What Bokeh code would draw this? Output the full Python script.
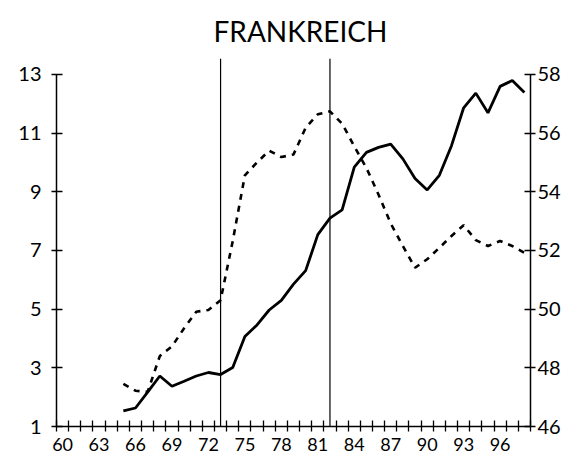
from bokeh.plotting import figure
from bokeh.models import Range1d, LinearAxis, FixedTicker, Span
from bokeh.embed import file_html
from bokeh.resources import INLINE

title = "FRANKREICH"
years = [65, 66, 67, 68, 69, 70, 71, 72, 73, 74, 75, 76, 77, 78, 79, 80, 81,
         82, 83, 84, 85, 86, 87, 88, 89, 90, 91, 92, 93, 94, 95, 96, 97, 98]
solid_left = [1.53, 1.63, 2.17, 2.72, 2.37, 2.54, 2.72, 2.84, 2.77, 3.01, 4.07,
              4.46, 4.97, 5.30, 5.85, 6.31, 7.54, 8.10, 8.38, 9.84, 10.34, 10.51,
              10.62, 10.12, 9.45, 9.06, 9.56, 10.57, 11.86, 12.36, 11.69, 12.59,
              12.79, 12.38]
dashed_right = [47.45, 47.22, 47.18, 48.40, 48.73, 49.35, 49.91, 49.97, 50.30,
                52.32, 54.56, 55.00, 55.40, 55.18, 55.27, 56.18, 56.64, 56.74,
                56.32, 55.55, 54.81, 53.90, 52.92, 52.15, 51.41, 51.70, 52.09,
                52.49, 52.86, 52.35, 52.15, 52.32, 52.15, 51.92]
event_years = [73, 82]
x_label_years = [60, 63, 66, 69, 72, 75, 78, 81, 84, 87, 90, 93, 96]
all_years = list(range(60, 99))
left_ticks = [1, 3, 5, 7, 9, 11, 13]
right_ticks = [46, 48, 50, 52, 54, 56, 58]

FONT = "Lato"

p = figure(width=563, height=453, output_backend="svg", toolbar_location=None,
           x_range=Range1d(all_years[0] - 0.5, all_years[-1] + 0.5),
           y_range=Range1d(left_ticks[0], 13.54),
           x_axis_location=None, y_axis_location=None, title=title,
           min_border_left=56, min_border_right=10, min_border_top=55,
           min_border_bottom=10)
p.extra_y_ranges = {"right": Range1d(right_ticks[0], 58.54)}
p.outline_line_color = None
p.grid.visible = False
p.background_fill_color = "white"
p.border_fill_color = "white"

p.title.align = "left"
p.title.text_font = FONT
p.title.text_font_size = "28px"
p.title.text_font_style = "normal"
p.title.text_color = "black"
p.title.standoff = 22
p.title.offset = 157

def style(ax, size):
    ax.axis_line_color = "black"
    ax.axis_line_width = 1.5
    ax.major_tick_line_color = "black"
    ax.major_tick_line_width = 1.3
    ax.minor_tick_line_color = "black"
    ax.minor_tick_line_width = 1.3
    ax.major_label_text_font = FONT
    ax.major_label_text_font_size = size
    ax.major_label_text_color = "black"

left = LinearAxis(ticker=FixedTicker(ticks=left_ticks),
                  bounds=(left_ticks[0], left_ticks[-1]))
style(left, "20px")
left.major_tick_in = 6
left.major_tick_out = 5
left.major_label_standoff = 10
p.add_layout(left, "left")

right = LinearAxis(y_range_name="right", ticker=FixedTicker(ticks=right_ticks),
                   bounds=(right_ticks[0], right_ticks[-1]))
style(right, "20px")
right.major_tick_in = 6
right.major_tick_out = 5
right.major_label_standoff = 2
p.add_layout(right, "right")

boundaries = [y - 0.5 for y in all_years] + [all_years[-1] + 0.5]
bottom = LinearAxis(ticker=FixedTicker(ticks=x_label_years, minor_ticks=boundaries),
                    bounds=(all_years[0] - 0.5, all_years[-1] + 0.5))
style(bottom, "18px")
bottom.major_tick_in = 0
bottom.major_tick_out = 0
bottom.minor_tick_in = 6
bottom.minor_tick_out = 5
bottom.major_label_standoff = 6
p.add_layout(bottom, "below")

for e in event_years:
    p.add_layout(Span(location=e, dimension="height", line_color="black",
                      line_width=1.2))

p.line(years, solid_left, line_color="black", line_width=2.8)
p.line(years, dashed_right, y_range_name="right", line_color="black",
       line_width=2.6, line_dash="6 6")

open("out.html", "w").write(file_html(p, INLINE))
